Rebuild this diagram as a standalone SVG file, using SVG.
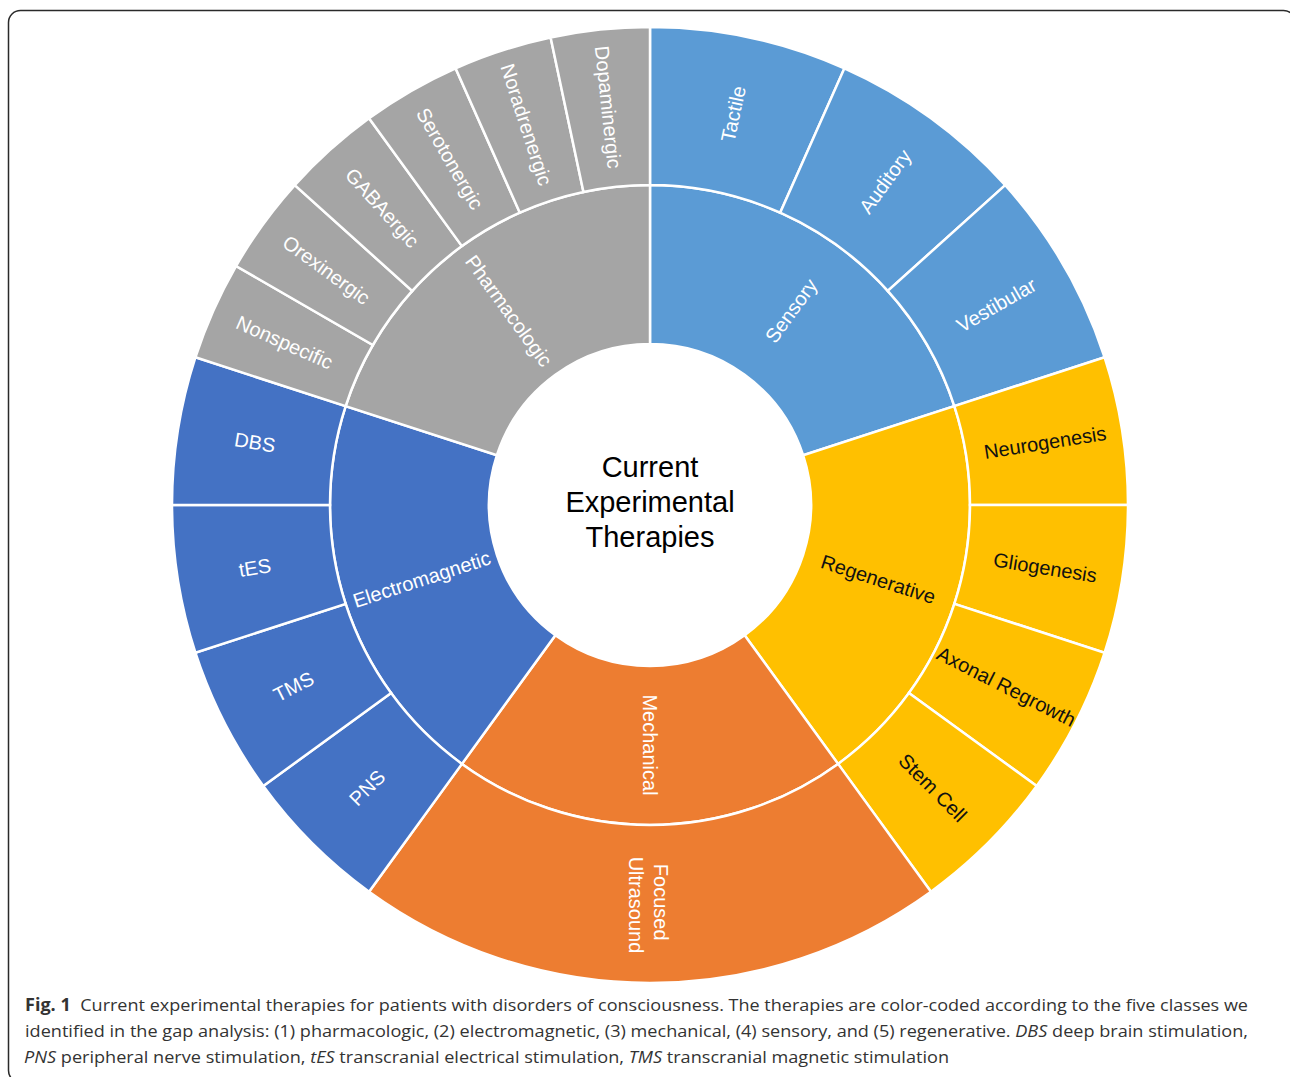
<svg xmlns="http://www.w3.org/2000/svg" width="1290" height="1077" viewBox="0 0 1290 1077">
  <style>
    .seg { stroke: #ffffff; stroke-width: 2.5; stroke-linejoin: miter; }
    .pha { fill: #A5A5A5; }
    .sen { fill: #5B9BD5; }
    .reg { fill: #FFC000; }
    .mec { fill: #ED7D31; }
    .ele { fill: #4472C4; }
    .lbl { font-family: "Liberation Sans", Arial, sans-serif; font-size: 20px; fill: #ffffff; text-anchor: middle; }
    .dark { fill: #111111; }
    .title { font-family: "Liberation Sans", Arial, sans-serif; font-size: 29px; fill: #000000; text-anchor: middle; }
    .cap { font-family: "Open Sans", "Noto Sans", sans-serif; font-size: 17px; fill: #333333; }
  </style>

  <rect width="1290" height="1077" fill="#ffffff"/>
  <!-- figure frame -->
  <rect x="8.5" y="10.5" width="1287" height="1072" rx="12" ry="12" fill="none" stroke="#2a2a2a" stroke-width="1.5"/>

  <!-- centre title -->
  <g id="center">
    <text class="title" x="650" y="477">Current</text>
    <text class="title" x="650" y="512">Experimental</text>
    <text class="title" x="650" y="547">Therapies</text>
  </g>

  <!-- Sensory class (0-72 deg) -->
  <g id="sensory">
    <path class="seg sen" d="M650,185 A320,320 0 0 1 954.34,406.11 L803.12,455.25 A161,161 0 0 0 650,344 Z"/>
    <text class="lbl" transform="translate(791.1,310.8) rotate(-54)" y="7">Sensory</text>
  </g>
  <g id="tactile">
    <path class="seg sen" d="M650,27 A478,478 0 0 1 844.42,68.32 L780.16,212.66 A320,320 0 0 0 650,185 Z"/>
    <text class="lbl" transform="translate(733.2,113.8) rotate(-78)" y="7">Tactile</text>
  </g>
  <g id="auditory">
    <path class="seg sen" d="M844.42,68.32 A478,478 0 0 1 1005.22,185.16 L887.80,290.88 A320,320 0 0 0 780.16,212.66 Z"/>
    <text class="lbl" transform="translate(885.1,181.4) rotate(-54)" y="7">Auditory</text>
  </g>
  <g id="vestibular">
    <path class="seg sen" d="M1005.22,185.16 A478,478 0 0 1 1104.61,357.29 L954.34,406.11 A320,320 0 0 0 887.80,290.88 Z"/>
    <text class="lbl" transform="translate(996.4,305) rotate(-30)" y="7">Vestibular</text>
  </g>

  <!-- Regenerative class (72-144 deg) -->
  <g id="regenerative">
    <path class="seg reg" d="M954.34,406.11 A320,320 0 0 1 838.09,763.89 L744.63,635.25 A161,161 0 0 0 803.12,455.25 Z"/>
    <text class="lbl dark" transform="translate(878.3,579.2) rotate(18)" y="7">Regenerative</text>
  </g>
  <g id="neurogenesis">
    <path class="seg reg" d="M1104.61,357.29 A478,478 0 0 1 1128,505 L970,505 A320,320 0 0 0 954.34,406.11 Z"/>
    <text class="lbl dark" transform="translate(1045.1,442.4) rotate(-9)" y="7">Neurogenesis</text>
  </g>
  <g id="gliogenesis">
    <path class="seg reg" d="M1128,505 A478,478 0 0 1 1104.61,652.71 L954.34,603.89 A320,320 0 0 0 970,505 Z"/>
    <text class="lbl dark" transform="translate(1045.1,567.6) rotate(9)" y="7">Gliogenesis</text>
  </g>
  <g id="axonal-regrowth">
    <path class="seg reg" d="M1104.61,652.71 A478,478 0 0 1 1036.71,785.96 L908.89,693.09 A320,320 0 0 0 954.34,603.89 Z"/>
    <text class="lbl dark" transform="translate(1006.4,686.6) rotate(27)" y="7">Axonal Regrowth</text>
  </g>
  <g id="stem-cell">
    <path class="seg reg" d="M1036.71,785.96 A478,478 0 0 1 930.96,891.71 L838.09,763.89 A320,320 0 0 0 908.89,693.09 Z"/>
    <text class="lbl dark" transform="translate(932.8,787.8) rotate(45)" y="7">Stem Cell</text>
  </g>

  <!-- Mechanical class (144-216 deg) -->
  <g id="mechanical">
    <path class="seg mec" d="M838.09,763.89 A320,320 0 0 1 461.91,763.89 L555.37,635.25 A161,161 0 0 0 744.63,635.25 Z"/>
    <text class="lbl" transform="translate(650,745) rotate(90)" y="7">Mechanical</text>
  </g>
  <g id="focused-ultrasound">
    <path class="seg mec" d="M930.96,891.71 A478,478 0 0 1 369.04,891.71 L461.91,763.89 A320,320 0 0 0 838.09,763.89 Z"/>
    <text class="lbl" transform="translate(649,905) rotate(90)">
      <tspan x="0" y="-5">Focused</tspan>
      <tspan x="0" y="20">Ultrasound</tspan>
    </text>
  </g>

  <!-- Electromagnetic class (216-288 deg) -->
  <g id="electromagnetic">
    <path class="seg ele" d="M461.91,763.89 A320,320 0 0 1 345.66,406.11 L496.88,455.25 A161,161 0 0 0 555.37,635.25 Z"/>
    <text class="lbl" transform="translate(421.7,579.2) rotate(-18)" y="7">Electromagnetic</text>
  </g>
  <g id="pns">
    <path class="seg ele" d="M369.04,891.71 A478,478 0 0 1 263.29,785.96 L391.11,693.09 A320,320 0 0 0 461.91,763.89 Z"/>
    <text class="lbl" transform="translate(367.2,787.8) rotate(-45)" y="7">PNS</text>
  </g>
  <g id="tms">
    <path class="seg ele" d="M263.29,785.96 A478,478 0 0 1 195.39,652.71 L345.66,603.89 A320,320 0 0 0 391.11,693.09 Z"/>
    <text class="lbl" transform="translate(293.6,686.6) rotate(-27)" y="7">TMS</text>
  </g>
  <g id="tes">
    <path class="seg ele" d="M195.39,652.71 A478,478 0 0 1 172,505 L330,505 A320,320 0 0 0 345.66,603.89 Z"/>
    <text class="lbl" transform="translate(254.9,567.6) rotate(-9)" y="7">tES</text>
  </g>
  <g id="dbs">
    <path class="seg ele" d="M172,505 A478,478 0 0 1 195.39,357.29 L345.66,406.11 A320,320 0 0 0 330,505 Z"/>
    <text class="lbl" transform="translate(254.9,442.4) rotate(9)" y="7">DBS</text>
  </g>

  <!-- Pharmacologic class (288-360 deg) -->
  <g id="pharmacologic">
    <path class="seg pha" d="M345.66,406.11 A320,320 0 0 1 650,185 L650,344 A161,161 0 0 0 496.88,455.25 Z"/>
    <text class="lbl" transform="translate(508.9,310.8) rotate(54)" y="7">Pharmacologic</text>
  </g>
  <g id="nonspecific">
    <path class="seg pha" d="M195.39,357.29 A478,478 0 0 1 236.04,266 L372.87,345 A320,320 0 0 0 345.66,406.11 Z"/>
    <text class="lbl" transform="translate(284.6,342.3) rotate(24)" y="7">Nonspecific</text>
  </g>
  <g id="orexinergic">
    <path class="seg pha" d="M236.04,266 A478,478 0 0 1 294.78,185.16 L412.20,290.88 A320,320 0 0 0 372.87,345 Z"/>
    <text class="lbl" transform="translate(326.4,269.9) rotate(36)" y="7">Orexinergic</text>
  </g>
  <g id="gabaergic">
    <path class="seg pha" d="M294.78,185.16 A478,478 0 0 1 369.04,118.29 L461.91,246.11 A320,320 0 0 0 412.20,290.88 Z"/>
    <text class="lbl" transform="translate(382.4,207.8) rotate(48)" y="7">GABAergic</text>
  </g>
  <g id="serotonergic">
    <path class="seg pha" d="M369.04,118.29 A478,478 0 0 1 455.58,68.32 L519.84,212.66 A320,320 0 0 0 461.91,246.11 Z"/>
    <text class="lbl" transform="translate(450,158.6) rotate(60)" y="7">Serotonergic</text>
  </g>
  <g id="noradrenergic">
    <path class="seg pha" d="M455.58,68.32 A478,478 0 0 1 550.62,37.44 L583.47,191.99 A320,320 0 0 0 519.84,212.66 Z"/>
    <text class="lbl" transform="translate(526.4,124.6) rotate(72)" y="7">Noradrenergic</text>
  </g>
  <g id="dopaminergic">
    <path class="seg pha" d="M550.62,37.44 A478,478 0 0 1 650,27 L650,185 A320,320 0 0 0 583.47,191.99 Z"/>
    <text class="lbl" transform="translate(608.2,107.2) rotate(84)" y="7">Dopaminergic</text>
  </g>

  <!-- figure caption -->
  <g id="caption" class="cap">
    <text x="25" y="1011" textLength="1223" lengthAdjust="spacingAndGlyphs"><tspan font-weight="bold">Fig. 1</tspan><tspan dx="9">Current experimental therapies for patients with disorders of consciousness. The therapies are color-coded according to the five classes we</tspan></text>
    <text x="25" y="1037" textLength="1223" lengthAdjust="spacingAndGlyphs">identified in the gap analysis: (1) pharmacologic, (2) electromagnetic, (3) mechanical, (4) sensory, and (5) regenerative. <tspan font-style="italic">DBS</tspan> deep brain stimulation,</text>
    <text x="24" y="1063" textLength="925" lengthAdjust="spacingAndGlyphs"><tspan font-style="italic">PNS</tspan> peripheral nerve stimulation, <tspan font-style="italic">tES</tspan> transcranial electrical stimulation, <tspan font-style="italic">TMS</tspan> transcranial magnetic stimulation</text>
  </g>
</svg>
